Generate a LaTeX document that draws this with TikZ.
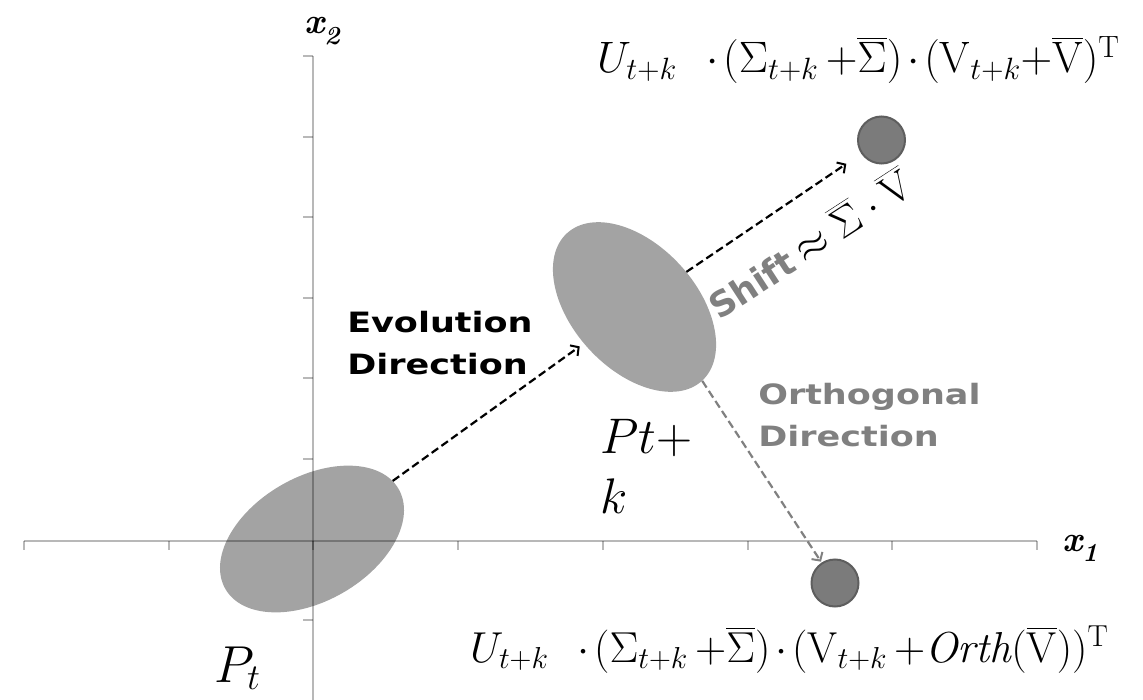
\documentclass[tikz,border=0pt]{standalone}
\usepackage{fix-cm}
\usepackage{fontspec}
\newfontfamily\labfont{DejaVu Sans}
\usetikzlibrary{shapes.geometric,arrows.meta}
\definecolor{ellgray}{HTML}{A3A3A3}
\definecolor{dotfill}{HTML}{7B7B7B}
\definecolor{dotline}{HTML}{5E5E5E}
\definecolor{labgray}{HTML}{808080}
\newcommand{\obar}[1]{\overline{\mathstrut #1}}
\tikzset{
  blob/.style={ellipse, fill=ellgray, draw=none, minimum width=200, minimum height=124, inner sep=0},
  dotnode/.style={circle, fill=dotfill, draw=dotline, line width=2, minimum size=47, inner sep=0},
  axisline/.style={draw=black, draw opacity=0.28, line width=2},
  evo/.style={dashed, dash pattern=on 8 off 4, line width=2.2, -{Straight Barb[length=6,width=13,line width=2]}},
  orth/.style={evo, draw=labgray},
  boldlab/.style={inner sep=0, align=left, font={\labfont\bfseries\fontsize{28}{42}\selectfont}, xscale=1.25},
  mathlab/.style={inner sep=0, font={\fontsize{44}{48}\selectfont\medmuskip=2mu}},
  axlab/.style={inner sep=0, font={\bfseries\itshape\fontsize{36}{40}\selectfont}}
}
\begin{document}
\begin{tikzpicture}[x=1pt,y=-1pt]
\useasboundingbox (0,0) rectangle (1143,700);
% ellipses
\node[blob, rotate=30] (Pt) at (312,539) {};
\node[blob, rotate=-47.5] (Ptk) at (634.5,307) {};
% axes
\draw[axisline] (24,541) -- (1037,541);
\draw[axisline] (313,56) -- (313,700);
\foreach \i in {0,...,7} \draw[axisline] ({24+144.7*\i},541) -- ++(0,9);
\foreach \j in {0,1,2,3,4,5,7} \draw[axisline] (313,{56+80.6*\j}) -- ++(-10,0);
% dots
\node[dotnode] (c1) at (881.5,140) {};
\node[dotnode] (c2) at (835,583) {};
% arrows
\draw[evo, shorten >=5] (Pt) -- (Ptk);
\draw[evo, shorten >=18] (Ptk) -- (c1);
\draw[orth, shorten >=1] (Ptk.east) -- (c2);
% axis labels
\node[axlab, anchor=base west] (x2) at (304,34) {x\raisebox{-0.28em}{\fontsize{26}{26}\selectfont 2}};
\node[axlab, anchor=base west] (x1) at (1062,551) {x\raisebox{-0.28em}{\fontsize{26}{26}\selectfont 1}};
% labels
\node[boldlab, anchor=north west] (evl) at (347,311) {Evolution\\Direction};
\node[boldlab, anchor=north west, text=labgray] (orl) at (758,383) {Orthogonal\\Direction};
\node[inner sep=0, anchor=base west, rotate=33] (sh) at (719,321)
  {{\labfont\bfseries\fontsize{35}{35}\selectfont\color{labgray}Shift}\hspace{9pt}{\fontsize{42}{46}\selectfont$\approx\obar{\Sigma}\cdot\obar{\mathrm{V}}$}};
\node[inner sep=0, anchor=base west, align=left, font={\fontsize{50}{60}\selectfont}] (ptkl) at (600,513) {$Pt{+}$\\$k$};
\node[inner sep=0, anchor=base west, font={\fontsize{52}{60}\selectfont}] (ptl) at (214,682) {$P_t$};
% formulas
\node[mathlab, anchor=base west] (f1) at (597,73)
  {$U_{t+k}\;\;\cdot(\Sigma_{t+k}\,{+}\obar{\Sigma})\cdot(\mathrm{V}_{t+k}{+}\obar{\mathrm{V}})^{\mathrm{T}}$};
\node[mathlab, anchor=base west, font={\fontsize{43.3}{48}\selectfont\medmuskip=2mu}] (f2) at (470,662)
  {$U_{t+k}\;\;\cdot(\Sigma_{t+k}\,{+}\obar{\Sigma})\cdot(\mathrm{V}_{t+k}\,{+}\mathit{Orth}(\obar{\mathrm{V}}))^{\mathrm{T}}$};
\end{tikzpicture}
\end{document}
